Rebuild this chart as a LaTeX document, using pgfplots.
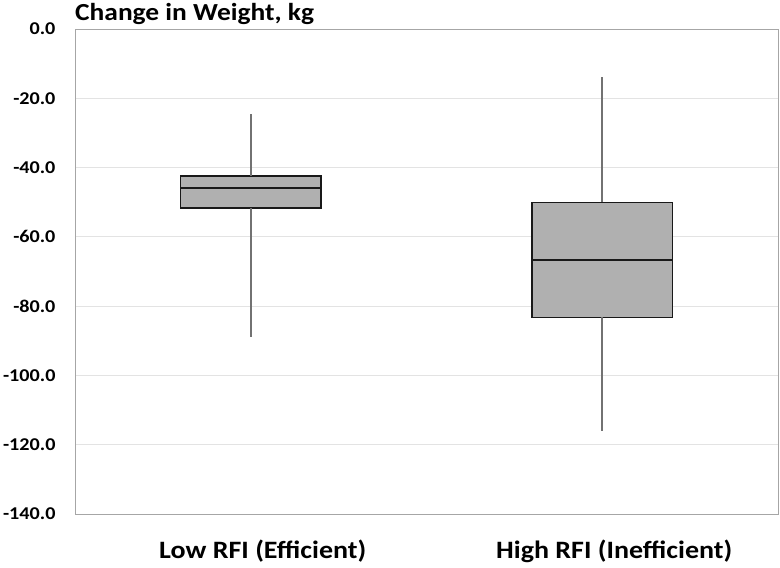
\documentclass[border=0pt]{standalone}
\usepackage{fontspec}
\setmainfont{Carlito}[FakeStretch=1.12]
\usepackage{pgfplots}
\pgfplotsset{compat=1.18}
\definecolor{boxfill}{HTML}{B0B0B0}
\definecolor{whisk}{HTML}{727272}
\definecolor{gridc}{HTML}{E3E3E3}
\definecolor{framec}{HTML}{A6A6A6}
\begin{document}
\begin{tikzpicture}
\useasboundingbox (-75pt,-54pt) rectangle (705pt,514pt);
\begin{axis}[
  at={(0pt,0pt)}, anchor=south west,
  scale only axis, width=703pt, height=485pt,
  xmin=0.5, xmax=2.5, ymin=-140, ymax=0,
  xtick={1,2}, xticklabels={Low RFI (Efficient), High RFI (Inefficient)},
  ytick={-140,-120,-100,-80,-60,-40,-20,0},
  yticklabels={-140.0,-120.0,-100.0,-80.0,-60.0,-40.0,-20.0,0.0},
  major tick length=0pt,
  ymajorgrids, grid style={gridc, line width=0.8pt},
  axis line style={framec, line width=0.9pt},
  yticklabel style={font=\fontsize{18}{21}\selectfont\bfseries, anchor=east, xshift=-16pt},
  xticklabel style={font=\fontsize{25}{28}\selectfont\bfseries, yshift=-22pt, xshift=12pt},
  title={Change in Weight, kg},
  title style={at={(0,1)}, anchor=base west, inner sep=0pt, xshift=0pt, yshift=2pt, font=\fontsize{24.5}{28}\selectfont\bfseries},
]
\addplot[draw=black!90, fill=boxfill, line width=1.4pt] coordinates {(0.8,-51.7) (1.2,-51.7) (1.2,-42.4) (0.8,-42.4)} -- cycle;
\addplot[draw=black!90, line width=1.4pt] coordinates {(0.8,-45.9) (1.2,-45.9)};
\addplot[draw=whisk, line width=2.2pt] coordinates {(1,-42.4) (1,-24.5)};
\addplot[draw=whisk, line width=2.2pt] coordinates {(1,-51.7) (1,-88.9)};
\addplot[draw=black!90, fill=boxfill, line width=1.4pt] coordinates {(1.8,-83.2) (2.2,-83.2) (2.2,-50.0) (1.8,-50.0)} -- cycle;
\addplot[draw=black!90, line width=1.4pt] coordinates {(1.8,-66.7) (2.2,-66.7)};
\addplot[draw=whisk, line width=2.2pt] coordinates {(2,-50.0) (2,-13.8)};
\addplot[draw=whisk, line width=2.2pt] coordinates {(2,-83.2) (2,-116.1)};
\end{axis}
\end{tikzpicture}
\end{document}
